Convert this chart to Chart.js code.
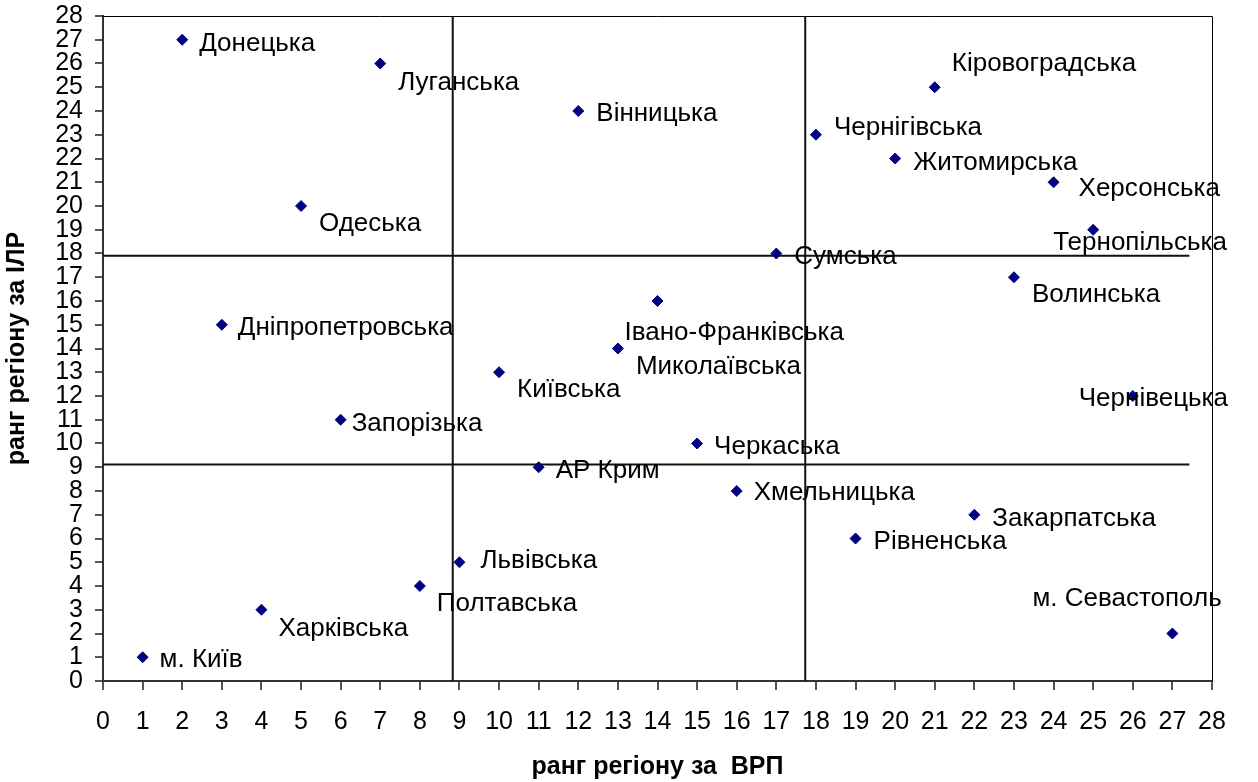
<!DOCTYPE html>
<html>
<head>
<meta charset="utf-8">
<script src="https://cdn.jsdelivr.net/npm/chart.js@4.4.0/dist/chart.umd.min.js"></script>
<style>
    html, body { margin: 0; padding: 0; background: #fff; }
    #wrap { width: 1258px; height: 782px; }
</style>
</head>
<body>
<div id="wrap"><canvas id="chart" width="1258" height="782"></canvas></div>
<script>
// regions with their rank by GRP (x) and by HDI (y)
const regions = [
    'Донецька', 'Луганська', 'Вінницька', 'Кіровоградська', 'Чернігівська',
    'Житомирська', 'Херсонська', 'Одеська', 'Тернопільська', 'Сумська',
    'Волинська', 'Івано-Франківська', 'Дніпропетровська', 'Миколаївська', 'Київська',
    'Чернівецька', 'Запорізька', 'Черкаська', 'АР Крим', 'Хмельницька',
    'Закарпатська', 'Рівненська', 'Львівська', 'Полтавська', 'Харківська',
    'м. Севастополь', 'м. Київ'
];
const grpRank = [2, 7, 12, 21, 18, 20, 24, 5, 25, 17, 23, 14, 3, 13, 10, 26, 6, 15, 11, 16, 22, 19, 9, 8, 4, 27, 1];
const hdiRank = [27, 26, 24, 25, 23, 22, 21, 20, 19, 18, 17, 16, 15, 14, 13, 12, 11, 10, 9, 8, 7, 6, 5, 4, 3, 2, 1];

// dividing lines
const vLineX = [8.83, 17.73];
const hLineY = [17.91, 9.12];
const hLineEndX = 27.43;

// label placement relative to the marker, in pixels
const LABEL_OFFSETS = [
    [17, 4], [18, 19], [18, 3], [17, -23], [18, -7],
    [18, 4], [25, 7], [18, 18], [-40, 13], [18, 3],
    [18, 18], [-33, 32], [16, 3], [18, 18], [18, 18],
    [-54, 3], [11, 4], [17, 3], [17, 4], [17, 2],
    [18, 4], [18, 3], [21, -1], [17, 18], [17, 19],
    [-140, -35], [17, 3]
];

const FONT = "'Liberation Sans', Arial, sans-serif";
const NAVY = '#000080';

const points = regions.map((r, i) => ({ x: grpRank[i], y: hdiRank[i] }));

const lineSets = [];
vLineX.forEach(x => lineSets.push({
    type: 'line', data: [{ x: x, y: 0 }, { x: x, y: 28 }],
    borderColor: '#111', borderWidth: 2, pointRadius: 0, fill: false
}));
hLineY.forEach(y => lineSets.push({
    type: 'line', data: [{ x: 0, y: y }, { x: hLineEndX, y: y }],
    borderColor: '#111', borderWidth: 2, pointRadius: 0, fill: false
}));

const frame = {
    id: 'frame',
    beforeDatasetsDraw(chart) {
        const { ctx, chartArea: a } = chart;
        ctx.save();
        ctx.strokeStyle = '#000';
        ctx.lineWidth = 1;
        ctx.beginPath();
        ctx.moveTo(a.left, a.top + 0.5);
        ctx.lineTo(a.right + 0.5, a.top + 0.5);
        ctx.lineTo(a.right + 0.5, a.bottom);
        ctx.stroke();
        ctx.restore();
    }
};

const pointLabels = {
    id: 'pointLabels',
    afterDatasetsDraw(chart) {
        const meta = chart.getDatasetMeta(0);
        const ctx = chart.ctx;
        ctx.save();
        ctx.font = '26px ' + FONT;
        ctx.fillStyle = '#000';
        ctx.textBaseline = 'middle';
        ctx.textAlign = 'left';
        meta.data.forEach((el, i) => {
            const off = LABEL_OFFSETS[i];
            ctx.fillText(regions[i], el.x + off[0], el.y + off[1]);
        });
        ctx.restore();
    }
};

new Chart(document.getElementById('chart'), {
    type: 'scatter',
    data: {
        datasets: [{
            data: points,
            pointStyle: 'rectRot',
            pointRadius: 5.5,
            backgroundColor: NAVY,
            borderColor: NAVY,
            borderWidth: 1
        }].concat(lineSets)
    },
    options: {
        responsive: false,
        animation: false,
        layout: { padding: { top: 16, right: 46, left: 0, bottom: 0 } },
        plugins: {
            legend: { display: false },
            tooltip: { enabled: false }
        },
        scales: {
            x: {
                min: 0, max: 28,
                ticks: {
                    stepSize: 1, autoSkip: false, maxRotation: 0, color: '#000', padding: 17,
                    font: { family: FONT, size: 25 }
                },
                grid: { drawOnChartArea: false, tickLength: 9, tickColor: '#555', lineWidth: 2 },
                border: { color: '#333', width: 2 },
                title: {
                    display: true, text: 'ранг регіону за  ВРП', color: '#000',
                    font: { family: FONT, size: 25, weight: 'bold' },
                    padding: { top: 0, bottom: 0 }
                },
                afterFit(scale) {
                    scale.height = 101;
                    scale.paddingLeft = 0;
                    scale.paddingRight = 0;
                }
            },
            y: {
                min: 0, max: 28,
                ticks: {
                    stepSize: 1, autoSkip: false, color: '#000', padding: 12,
                    font: { family: FONT, size: 25 }
                },
                grid: { drawOnChartArea: false, tickLength: 8, tickColor: '#555', lineWidth: 2 },
                border: { color: '#333', width: 2 },
                title: {
                    display: true, text: 'ранг регіону за ІЛР', color: '#000',
                    font: { family: FONT, size: 25, weight: 'bold' },
                    padding: { top: 2, bottom: 0 }
                },
                afterFit(scale) {
                    scale.width = 103;
                    scale.paddingTop = 0;
                    scale.paddingBottom = 0;
                }
            }
        }
    },
    plugins: [frame, pointLabels]
});
</script>
</body>
</html>
